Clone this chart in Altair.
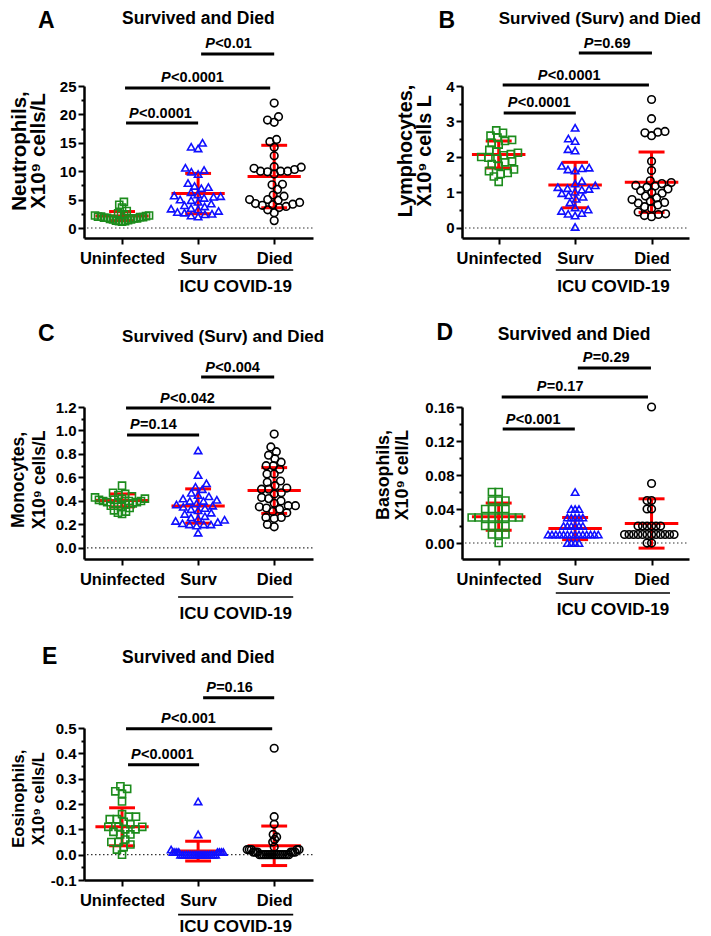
import math
import altair as alt
import pandas as pd

# ------------------------------------------------------------------ data
GROUPS = ["Uninfected", "Surv", "Died"]

neut_uninf = [4.6, 4.1, 3.6, 3.0, 2.6, 2.4, 2.3, 2.2, 2.2, 2.1, 2.0, 2.0, 1.9, 1.9, 1.8, 1.8,
              1.7, 1.7, 1.6, 1.5, 1.5, 1.4, 1.3, 1.2, 1.2, 1.1]
neut_surv = [15.0, 14.3, 14.0, 10.6, 10.2, 9.9, 9.5, 7.9, 7.4, 7.2, 7.0, 6.3, 5.9, 5.7, 5.6, 5.5,
             5.3, 5.0, 4.9, 4.6, 4.3, 4.0, 3.8, 3.5, 3.4, 3.3, 3.0, 2.8, 2.7, 2.5, 2.4, 2.2, 2.0]
neut_died = [22.0, 19.6, 19.0, 18.6, 15.6, 15.2, 14.2, 12.7, 10.8, 10.7, 10.5, 10.3, 10.0, 10.0,
             10.0, 9.9, 9.5, 7.7, 7.6, 6.8, 5.8, 5.6, 5.0, 5.0, 4.9, 4.5, 4.3, 4.2, 4.1, 4.0,
             3.8, 3.6, 3.2, 2.7, 1.3]
neut_mean = [2.1, 6.06, 9.06]
neut_sd = [0.8, 3.55, 5.5]

lymph_uninf = [2.75, 2.68, 2.6, 2.55, 2.48, 2.45, 2.4, 2.35, 2.2, 2.15, 2.12, 2.08, 2.05, 2.0,
               1.98, 1.95, 1.88, 1.85, 1.8, 1.75, 1.65, 1.6, 1.55, 1.52, 1.45, 1.3]
lymph_surv = [2.82, 2.52, 2.45, 2.22, 2.18, 1.75, 1.7, 1.68, 1.65, 1.62, 1.32, 1.25, 1.2, 1.15,
              1.12, 1.1, 1.08, 1.02, 0.98, 0.92, 0.88, 0.82, 0.72, 0.58, 0.52, 0.48, 0.42, 0.4,
              0.35, 0.03]
lymph_died = [3.62, 3.08, 2.72, 2.7, 2.68, 2.6, 1.88, 1.62, 1.33, 1.28, 1.25, 1.2, 1.18, 1.15,
              1.1, 1.05, 1.0, 0.98, 0.9, 0.85, 0.8, 0.75, 0.72, 0.7, 0.65, 0.6, 0.55, 0.45, 0.4,
              0.38, 0.35, 0.32]
lymph_mean = [2.07, 1.21, 1.29]
lymph_sd = [0.38, 0.64, 0.85]

mono_uninf = [0.53, 0.47, 0.46, 0.45, 0.44, 0.43, 0.42, 0.42, 0.41, 0.41, 0.40, 0.40, 0.40,
              0.39, 0.39, 0.38, 0.38, 0.37, 0.36, 0.35, 0.34, 0.32, 0.31, 0.30, 0.29]
mono_surv = [0.83, 0.62, 0.55, 0.52, 0.50, 0.47, 0.45, 0.44, 0.42, 0.41, 0.40, 0.40, 0.38, 0.37,
             0.36, 0.35, 0.34, 0.33, 0.32, 0.30, 0.29, 0.27, 0.26, 0.25, 0.24, 0.23, 0.22, 0.21,
             0.20, 0.20, 0.20, 0.19, 0.13]
mono_died = [0.97, 0.86, 0.82, 0.79, 0.76, 0.73, 0.70, 0.70, 0.67, 0.63, 0.63, 0.57, 0.56, 0.53,
             0.51, 0.50, 0.50, 0.47, 0.46, 0.43, 0.42, 0.40, 0.38, 0.36, 0.36, 0.35, 0.34, 0.33,
             0.31, 0.30, 0.26, 0.26, 0.25, 0.20, 0.18]
mono_mean = [0.405, 0.357, 0.489]
mono_sd = [0.055, 0.146, 0.195]

baso_uninf = [0.06, 0.06, 0.05, 0.05, 0.05, 0.04, 0.04, 0.04, 0.04, 0.03, 0.03, 0.03, 0.03,
              0.03, 0.03, 0.03, 0.03, 0.02, 0.02, 0.02, 0.02, 0.01, 0.01, 0.01, 0.00]
baso_surv = [0.06, 0.04, 0.04, 0.04, 0.03, 0.03, 0.03, 0.03, 0.03, 0.02, 0.02, 0.02, 0.02, 0.02,
             0.02, 0.01, 0.01, 0.01, 0.01, 0.01, 0.01, 0.01, 0.01, 0.01, 0.01, 0.01, 0.01, 0.01,
             0.01, 0.00, 0.00, 0.00, 0.00]
baso_died = [0.16, 0.07, 0.05, 0.05, 0.04, 0.04, 0.02, 0.02, 0.02, 0.02, 0.02, 0.02, 0.01, 0.01,
             0.01, 0.01, 0.01, 0.01, 0.01, 0.01, 0.01, 0.01, 0.01, 0.01, 0.00, 0.00]
baso_mean = [0.031, 0.017, 0.023]
baso_sd = [0.016, 0.013, 0.029]

eos_uninf = [0.27, 0.26, 0.25, 0.24, 0.21, 0.16, 0.15, 0.15, 0.14, 0.14, 0.13, 0.12, 0.11, 0.11,
             0.11, 0.10, 0.10, 0.09, 0.08, 0.08, 0.06, 0.05, 0.05, 0.04, 0.03, 0.02, 0.00]
eos_surv = [0.21, 0.08, 0.02, 0.01, 0.01, 0.01, 0.01, 0.01, 0.01, 0.01, 0.01, 0.00, 0.00, 0.00,
            0.00, 0.00, 0.00, 0.00, 0.00, 0.00, 0.00, 0.00, 0.00, 0.00, 0.00, 0.00, 0.00, 0.00,
            0.00, 0.00]
eos_died = [0.42, 0.15, 0.12, 0.08, 0.07, 0.06, 0.05, 0.03, 0.02, 0.02, 0.02, 0.02, 0.02, 0.01,
            0.01, 0.01, 0.01, 0.01, 0.01, 0.00, 0.00, 0.00, 0.00, 0.00, 0.00, 0.00, 0.00, 0.00,
            0.00, 0.00, 0.00, 0.00, 0.00, 0.00]
eos_mean = [0.11, 0.014, 0.035]
eos_sd = [0.075, 0.039, 0.078]

# ------------------------------------------------------------------ style
FONT = "Liberation Sans"
GREEN, BLUE, BLACK, RED = "#1c8c1c", "#1010ff", "#000000", "#ff0000"
H = 152
LEFT = dict(W=229, xdom=[-0.5, 2.51], cat0=121.0, unit=76.0)
RIGHT = dict(W=227, xdom=[-0.48, 2.49], cat0=498.0, unit=76.3)

panels = [
    dict(letter="A", title="Survived and Died", title_fs=17.5, col=LEFT,
         vals=[neut_uninf, neut_surv, neut_died], mean=neut_mean, sd=neut_sd,
         ydom=[-1.76, 25], tlo=0, thi=25, major=5, fmt="d", y0=227, ppu=5.68,
         ylab=["Neutrophils,", "X10⁹ cells/L"], ylab_x=[19.5, 38], ylab_y=150, ylab_fs=20.5,
         letter_pos=(37, 27), title_pos=(121, 23),
         bars=[(200, 273, 53, "<0.01", 204), (124, 269, 87, "<0.0001", 160),
               (125, 197, 122, "<0.0001", 128)],
         icu=(177, 292, 269, 291)),
    dict(letter="B", title="Survived (Surv) and Died", title_fs=17, col=RIGHT,
         vals=[lymph_uninf, lymph_surv, lymph_died], mean=lymph_mean, sd=lymph_sd,
         ydom=[-0.282, 4], tlo=0, thi=4, major=1, fmt="d", y0=227, ppu=35.5,
         ylab=["Lymphocytes,", "X10⁹ cells L"], ylab_x=[405, 424], ylab_y=150, ylab_fs=19.8,
         letter_pos=(438, 27), title_pos=(498, 23),
         bars=[(578, 651, 52, "=0.69", 583), (502, 648, 84, "<0.0001", 537),
               (503, 575, 112, "<0.0001", 507)],
         icu=(555, 670, 269, 291)),
    dict(letter="C", title="Survived (Surv) and Died", title_fs=17, col=LEFT,
         vals=[mono_uninf, mono_surv, mono_died], mean=mono_mean, sd=mono_sd,
         ydom=[-0.094, 1.2], tlo=0, thi=1.2, major=0.2, fmt=".1f", y0=549, ppu=117.5,
         ylab=["Monocytes,", "X10⁹ cells/L"], ylab_x=[18, 39], ylab_y=481, ylab_fs=17.5,
         letter_pos=(37, 342), title_pos=(121, 343),
         bars=[(200, 273, 378, "<0.004", 204), (125, 270, 409, "<0.042", 159),
               (126, 198, 436, "=0.14", 129)],
         icu=(177, 292, 598, 620)),
    dict(letter="D", title="Survived and Died", title_fs=17.5, col=RIGHT,
         vals=[baso_uninf, baso_surv, baso_died], mean=baso_mean, sd=baso_sd,
         ydom=[-0.0188, 0.16], tlo=0, thi=0.16, major=0.04, fmt=".2f", y0=545, ppu=850,
         ylab=["Basophils,", "X10⁹ cell/L"], ylab_x=[383.5, 402], ylab_y=477, ylab_fs=17.8,
         letter_pos=(436, 342), title_pos=(497, 342),
         bars=[(577, 650, 370, "=0.29", 582), (501, 647, 399, "=0.17", 536),
               (502, 574, 431, "<0.001", 505)],
         icu=(555, 669, 595, 617)),
    dict(letter="E", title="Survived and Died", title_fs=17.5, col=LEFT,
         vals=[eos_uninf, eos_surv, eos_died], mean=eos_mean, sd=eos_sd,
         ydom=[-0.1, 0.5], tlo=-0.1, thi=0.5, major=0.1, fmt=".1f", y0=854, ppu=253.3,
         ylab=["Eosinophils,", "X10⁹ cells/L"], ylab_x=[18, 38], ylab_y=798, ylab_fs=16.5,
         letter_pos=(41, 663), title_pos=(121, 662),
         bars=[(202, 273, 697, "=0.16", 205), (125, 271, 728, "<0.001", 160),
               (127, 198, 764, "<0.0001", 130)],
         icu=(177, 292, 914, 931)),
]

SHAPES = ["square", "triangle-up", "circle"]
COLORS = [GREEN, BLUE, BLACK]
SIZES = [50, 58, 52]


def tick_values(lo, hi, step):
    n = int(round((hi - lo) / step))
    return [round(lo + i * step, 6) for i in range(n + 1)]


def swarm(vals, ppu, d=7.2, cap=27.0):
    """deterministic beeswarm offsets (pixels) for values"""
    order = sorted(range(len(vals)), key=lambda i: vals[i])
    placed, xs = [], [0.0] * len(vals)
    for i in order:
        y = vals[i] * ppu
        iv = []
        for px, py in placed:
            dy = abs(py - y)
            if dy < d:
                w = math.sqrt(d * d - dy * dy)
                iv.append((px - w, px + w))
        cands = [0.0] + [a for a, b in iv] + [b for a, b in iv]
        cands.sort(key=lambda c: (abs(round(c, 6)), c))
        for c in cands:
            if all(not (a + 1e-6 < c < b - 1e-6) for a, b in iv):
                xs[i] = c
                break
        placed.append((xs[i], y))
    m = max(abs(v) for v in xs)
    if m > cap:
        xs = [v * cap / m for v in xs]
    return xs


def build(p):
    col = p["col"]
    W = col["W"]
    xs = alt.Scale(domain=col["xdom"], nice=False, zero=False)
    ys = alt.Scale(domain=p["ydom"], nice=False, zero=False)
    xd = lambda px: (px - col["cat0"]) / col["unit"]
    yd = lambda py: (p["y0"] - py) / p["ppu"]
    ppu_act = H / (p["ydom"][1] - p["ydom"][0])
    unit_act = W / (col["xdom"][1] - col["xdom"][0])

    M = p["major"]
    test = f"abs(datum.value/{M} - round(datum.value/{M})) < 0.001"
    yaxis = alt.Axis(
        values=tick_values(p["tlo"], p["thi"], M / 2),
        labelExpr=f"{test} ? replace(format(datum.value, '{p['fmt']}'), '\u2212', '-') : ''",
        tickSize={"condition": {"test": test, "value": 6}, "value": 3},
        tickWidth=2, tickColor=BLACK, domainWidth=2.5, domainColor=BLACK,
        labelFont=FONT, labelFontSize=15, labelFontWeight="bold", labelColor=BLACK,
        labelPadding=2, grid=False, title=None, labelOverlap=False, labelFlush=False,
    )
    xaxis = alt.Axis(
        values=[0, 1, 2],
        labelExpr="['Uninfected','Surv','Died'][round(datum.value)]",
        tickSize=6, tickWidth=2, tickColor=BLACK, domainWidth=2.5, domainColor=BLACK,
        labelFont=FONT, labelFontSize=16.5, labelFontWeight="bold", labelColor=BLACK,
        labelPadding=6, grid=False, title=None, labelOverlap=False, labelFlush=False,
    )

    def X(f):
        return alt.X(f, type="quantitative", scale=xs, axis=xaxis)

    def Y(f):
        return alt.Y(f, type="quantitative", scale=ys, axis=yaxis)

    # points
    rows = []
    for gi, vals in enumerate(p["vals"]):
        offs = swarm(vals, ppu_act)
        for v, o in zip(vals, offs):
            rows.append(dict(x=gi + o / unit_act, y=v, g=GROUPS[gi]))
    pts = alt.Chart(pd.DataFrame(rows)).mark_point(
        filled=False, strokeWidth=1.6, opacity=1
    ).encode(
        x=X("x"), y=Y("y"),
        shape=alt.Shape("g:N", scale=alt.Scale(domain=GROUPS, range=SHAPES), legend=None),
        color=alt.Color("g:N", scale=alt.Scale(domain=GROUPS, range=COLORS), legend=None),
        size=alt.Size("g:N", scale=alt.Scale(domain=GROUPS, range=SIZES), legend=None),
    )

    # error bars (mean +/- SD)
    eb = []
    for gi, (m, s) in enumerate(zip(p["mean"], p["sd"])):
        eb += [dict(x1=gi - 0.35, x2=gi + 0.35, y1=m, y2=m),
               dict(x1=gi, x2=gi, y1=m - s, y2=m + s),
               dict(x1=gi - 0.17, x2=gi + 0.17, y1=m + s, y2=m + s),
               dict(x1=gi - 0.17, x2=gi + 0.17, y1=m - s, y2=m - s)]
    errs = alt.Chart(pd.DataFrame(eb)).mark_rule(color=RED, strokeWidth=3).encode(
        x=X("x1"), x2="x2:Q", y=Y("y1"), y2="y2:Q")

    zero = alt.Chart(pd.DataFrame({"v": [0]})).mark_rule(
        color="#333333", strokeWidth=1.2, strokeDash=[1.5, 2.5]
    ).encode(y=Y("v"), x=alt.value(3), x2=alt.value(W))

    # significance bars & ICU line
    sb = [dict(x1=xd(a), x2=xd(b), y1=yd(y), y2=yd(y)) for a, b, y, _, _ in p["bars"]]
    sig = alt.Chart(pd.DataFrame(sb)).mark_rule(color=BLACK, strokeWidth=3).encode(
        x=X("x1"), x2="x2:Q", y=Y("y1"), y2="y2:Q")
    ia, ib, iy, itxt = p["icu"]
    icu_line = alt.Chart(pd.DataFrame([dict(x1=xd(ia), x2=xd(ib), y1=yd(iy))])).mark_rule(
        color=BLACK, strokeWidth=1.6).encode(x=X("x1"), x2="x2:Q", y=Y("y1"))

    def txt(rows_, **kw):
        base = dict(font=FONT, fontWeight="bold", color=BLACK, align="left",
                    baseline="alphabetic")
        base.update(kw)
        return alt.Chart(pd.DataFrame(rows_)).mark_text(**base).encode(
            x=X("x"), y=Y("y"), text="t:N")

    fs_p = 14.5
    ptx = [dict(x=xd(tx), y=yd(y - 5.5), t="P") for a, b, y, s, tx in p["bars"]]
    prest = [dict(x=xd(tx), y=yd(y - 5.5), t=s) for a, b, y, s, tx in p["bars"]]
    lx, ly = p["letter_pos"]
    tx_, ty_ = p["title_pos"]
    layers = [
        errs, zero, pts, sig, icu_line,
        txt(ptx, fontSize=fs_p, fontStyle="italic"),
        txt(prest, fontSize=fs_p, dx=10),
        txt([dict(x=xd(lx), y=yd(ly), t=p["letter"])], fontSize=23),
        txt([dict(x=xd(tx_), y=yd(ty_), t=p["title"])], fontSize=p["title_fs"]),
        txt([dict(x=xd((ia + ib) / 2), y=yd(itxt), t="ICU COVID-19")], fontSize=17,
            align="center"),
        txt([dict(x=xd(p["ylab_x"][k]), y=yd(p["ylab_y"]), t=p["ylab"][k]) for k in range(2)],
            fontSize=p["ylab_fs"], align="center", baseline="middle", angle=270),
    ]
    return alt.layer(*layers).properties(width=W, height=H)


chart = alt.concat(
    *[build(p) for p in panels], columns=2,
    spacing={"row": 169, "column": 149}, bounds="flush",
).configure_view(stroke=None).properties(
    padding={"left": 1, "top": 1, "right": 0, "bottom": 0})

chart.save("out.html", embed_options={"renderer": "svg", "actions": False})
